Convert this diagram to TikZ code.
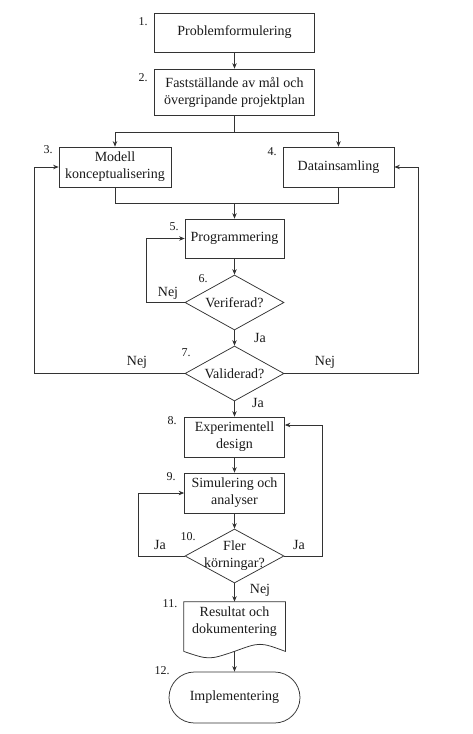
\documentclass[tikz,border=0pt]{standalone}
\usepackage{fontspec}
\setmainfont{Liberation Serif}
\usetikzlibrary{shapes.geometric,arrows.meta}
\definecolor{ln}{HTML}{333333}
\definecolor{txt}{HTML}{1A1A1A}
\begin{document}
\begin{tikzpicture}[x=1pt,y=-1pt,line width=0.75pt,
  every node/.style={font=\fontsize{14}{17}\selectfont, text=txt},
  box/.style={draw=ln, rectangle, inner sep=0pt, align=center},
  dia/.style={draw=ln, diamond, inner sep=0pt, minimum width=99pt, minimum height=55pt},
  num/.style={font=\fontsize{12}{14}\selectfont},
  lbl/.style={font=\fontsize{14}{17}\selectfont},
  conn/.style={draw=ln, -{Stealth[length=5.5pt,width=4.5pt]}},
  plain/.style={draw=ln}]
\fill[white] (0,0) rectangle (472,734);
\useasboundingbox (0,0) rectangle (472,734);
% nodes
\node[box, minimum width=160pt, minimum height=39pt] (b1) at (234.5,32.5) {Problemformulering};
\node[box, minimum width=160pt, minimum height=46pt] (b2) at (234.5,92) {Fastställande av mål och\\övergripande projektplan};
\node[box, minimum width=112pt, minimum height=40pt] (b3) at (115,167) {Modell\\konceptualisering};
\node[box, minimum width=111pt, minimum height=40pt] (b4) at (338.5,167) {Datainsamling};
\node[box, minimum width=99pt, minimum height=39pt] (b5) at (234.5,238.5) {Programmering};
\node[dia, label={center:Veriferad?}] (d1) at (234.5,302.5) {};
\node[dia, label={center:Validerad?}] (d2) at (234.5,373.5) {};
\node[box, minimum width=100pt, minimum height=40pt] (b8) at (234.5,437) {Experimentell\\design};
\node[box, minimum width=100pt, minimum height=40pt] (b9) at (234.5,493) {Simulering och\\analyser};
\node[dia, minimum height=54pt, label={[align=center]center:Fler\\körningar?}] (d3) at (234.5,556) {};
\node[rectangle, inner sep=0pt, minimum width=101pt, minimum height=49pt,
  label={[align=center,yshift=4.5pt]center:Resultat och\\dokumentering}] (doc) at (234.5,626.5) {};
\draw[plain] (doc.south west) -- (doc.north west) -- (doc.north east) -- (doc.south east)
  .. controls (260,642) .. (doc.south) .. controls (209,660) .. (doc.south west);
\node[draw=ln, rectangle, rounded corners=25.5pt, inner sep=0pt, minimum width=131pt, minimum height=51pt] (term) at (234.5,697.5) {Implementering};
% step numbers
\node[num] (n1) at (143,22) {1.};
\node[num] (n2) at (143,78) {2.};
\node[num] (n3) at (48,150) {3.};
\node[num] (n4) at (272,152) {4.};
\node[num] (n5) at (174,227) {5.};
\node[num] (n6) at (203,279) {6.};
\node[num] (n7) at (186,353) {7.};
\node[num] (n8) at (172,421) {8.};
\node[num] (n9) at (171,477) {9.};
\node[num] (n10) at (188,537) {10.};
\node[num] (n11) at (170,604) {11.};
\node[num] (n12) at (162,671) {12.};
% connectors
\draw[conn] (b1.south) -- (b2.north);
\coordinate (s2) at (234.5,132);
\draw[plain] (b2.south) -- (s2);
\draw[conn] (s2) -| (b3.north);
\draw[conn] (s2) -| (b4.north);
\coordinate (m5) at (234.5,203);
\draw[plain] (b3.south) |- (m5);
\draw[plain] (b4.south) |- (m5);
\draw[conn] (m5) -- (b5.north);
\draw[conn] (b5.south) -- (d1.north);
\coordinate (l1) at (146,302.5);
\draw[conn] (d1.west) -- (l1) |- (b5.west);
\draw[conn] (d1.south) -- (d2.north);
\coordinate (l2) at (34,373.5);
\draw[conn] (d2.west) -- (l2) |- (b3.west);
\coordinate (r2) at (418,373.5);
\draw[conn] (d2.east) -- (r2) |- (b4.east);
\draw[conn] (d2.south) -- (b8.north);
\draw[conn] (b8.south) -- (b9.north);
\draw[conn] (b9.south) -- (d3.north);
\coordinate (l3) at (138,556);
\draw[conn] (d3.west) -- (l3) |- (b9.west);
\coordinate (r3) at (322,556);
\coordinate (r3t) at (322,425);
\draw[conn] (d3.east) -- (r3) -- (r3t) -- (r3t -| b8.east);
\draw[conn] (d3.south) -- (doc.north);
\draw[conn] (doc.south) -- (term.north);
% branch labels
\node[lbl] (t1) at (168,293) {Nej};
\node[lbl] (t2) at (260,338) {Ja};
\node[lbl] (t3) at (137,362) {Nej};
\node[lbl] (t4) at (325,362) {Nej};
\node[lbl] (t5) at (258,403) {Ja};
\node[lbl] (t6) at (160,545) {Ja};
\node[lbl] (t7) at (299,545) {Ja};
\node[lbl] (t8) at (260,590) {Nej};
\end{tikzpicture}
\end{document}
